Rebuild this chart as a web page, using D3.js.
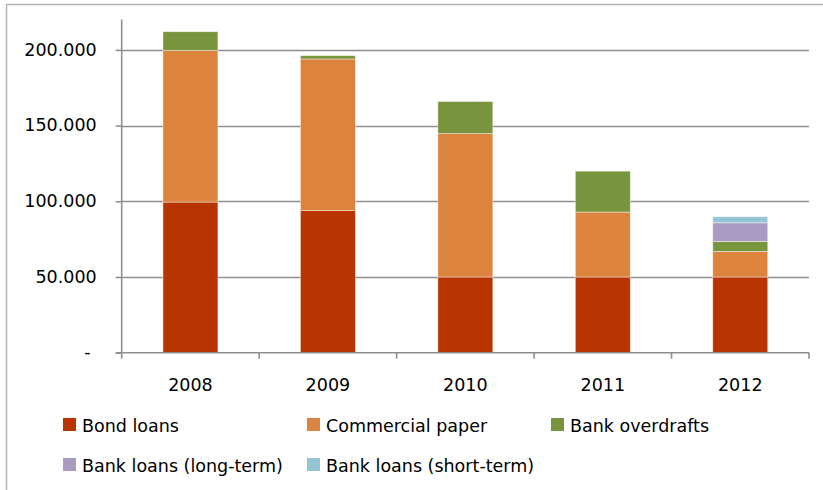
<!DOCTYPE html>
<html>
<head>
<meta charset="utf-8">
<script src="https://cdn.jsdelivr.net/npm/d3@7"></script>
<style>
  html, body { margin: 0; padding: 0; background: #fff; }
  svg { display: block; }
  text { font-family: "DejaVu Sans", sans-serif; font-size: 17.5px; fill: #000; }
</style>
</head>
<body>
<svg id="chart" width="823" height="490"></svg>
<script>
// Funding sources by year (values in thousands)
const years = ["2008", "2009", "2010", "2011", "2012"];
const seriesNames = ["Bond loans", "Commercial paper", "Bank overdrafts", "Bank loans (long-term)", "Bank loans (short-term)"];
const bondLoans      = [99500, 94000, 50000, 50000, 50000];
const commercialPaper = [100100, 100000, 94700, 42900, 16900];
const bankOverdrafts = [12400, 2200, 21200, 27000, 6600];
const bankLoansLong  = [0, 0, 0, 0, 12300];
const bankLoansShort = [0, 0, 0, 0, 4000];
const yTicks = [0, 50000, 100000, 150000, 200000];
const colors = ["#B83400", "#DC843E", "#78943D", "#A99AC2", "#93C5D7"];

const seriesValues = [bondLoans, commercialPaper, bankOverdrafts, bankLoansLong, bankLoansShort];
const rows = years.map((y, i) => {
  const r = { year: y };
  seriesNames.forEach((s, k) => r[s] = seriesValues[k][i]);
  return r;
});

const svg = d3.select("#chart");

// Outer chart frame
svg.append("rect")
  .attr("x", 6.5).attr("y", 4.5).attr("width", 840).attr("height", 500)
  .attr("fill", "none").attr("stroke", "#b4b4b4").attr("stroke-width", 1.5);

const plot = { left: 121.7, right: 809, top: 19.6, bottom: 352.7 };

const x = d3.scaleBand().domain(years).range([plot.left, plot.right]).paddingInner(0.6).paddingOuter(0.3);
const xCat = d3.scaleBand().domain(years).range([plot.left, plot.right]);
const y = d3.scaleLinear().domain([0, 220000]).range([plot.bottom, plot.top]);

const loc = d3.formatLocale({ decimal: ",", thousands: ".", grouping: [3], currency: ["", ""] });
const fmt = v => v === 0 ? "-" : loc.format(",.0f")(v);

// Horizontal gridlines
svg.append("g").selectAll("line").data(yTicks.filter(t => t > 0)).join("line")
  .attr("x1", plot.left).attr("x2", plot.right)
  .attr("y1", d => Math.round(y(d)) + 0.5).attr("y2", d => Math.round(y(d)) + 0.5)
  .attr("stroke", "#8f8f8f").attr("stroke-width", 1.6);

// Stacked bars
const stack = d3.stack().keys(seriesNames)(rows);
svg.append("g").selectAll("g").data(stack).join("g")
  .attr("fill", (d, i) => colors[i])
  .selectAll("rect").data(d => d.filter(p => p[1] - p[0] > 0)).join("rect")
  .attr("x", d => x(d.data.year))
  .attr("width", x.bandwidth())
  .attr("y", d => y(d[1]))
  .attr("height", d => y(d[0]) - y(d[1]))
  .attr("stroke", "rgba(255,255,255,0.55)").attr("stroke-width", 0.8);

// Y axis
const yAxis = d3.axisLeft(y).tickValues(yTicks).tickFormat(fmt).tickSize(6).tickPadding(19);
const gy = svg.append("g").attr("transform", `translate(${plot.left},0)`).call(yAxis);
gy.select(".domain").attr("d", `M0,${plot.top}V${plot.bottom}`).attr("stroke", "#8f8f8f").attr("stroke-width", 1.6);
gy.selectAll(".tick line").attr("stroke", "#8f8f8f").attr("stroke-width", 1.6);
gy.selectAll(".tick text").attr("font-family", "DejaVu Sans").attr("font-size", 17.5).attr("fill", "#000").attr("dy", "0.3em")
  .attr("dx", d => d === 0 ? -6 : 0);

// X axis with ticks at category boundaries
const gx = svg.append("g").attr("transform", `translate(0,${plot.bottom})`);
gx.append("line").attr("x1", plot.left - 6).attr("x2", plot.right)
  .attr("stroke", "#8f8f8f").attr("stroke-width", 1.6);
const bounds = years.map(d => xCat(d)).concat([plot.right]);
gx.selectAll("line.tk").data(bounds).join("line").attr("class", "tk")
  .attr("x1", d => d).attr("x2", d => d).attr("y1", 0).attr("y2", 6)
  .attr("stroke", "#8f8f8f").attr("stroke-width", 1.6);
gx.selectAll("text").data(years).join("text")
  .attr("x", d => xCat(d) + xCat.bandwidth() / 2)
  .attr("y", 38)
  .attr("text-anchor", "middle")
  .text(d => d);

// Legend
const legendPos = [[63, 418], [307, 418], [551, 418], [63, 458], [307, 458]];
const lg = svg.append("g").selectAll("g").data(seriesNames).join("g")
  .attr("transform", (d, i) => `translate(${legendPos[i][0]},${legendPos[i][1]})`);
lg.append("rect").attr("width", 13).attr("height", 13).attr("fill", (d, i) => colors[i]);
lg.append("text").attr("x", 19).attr("y", 13.5).text(d => d);
</script>
</body>
</html>
